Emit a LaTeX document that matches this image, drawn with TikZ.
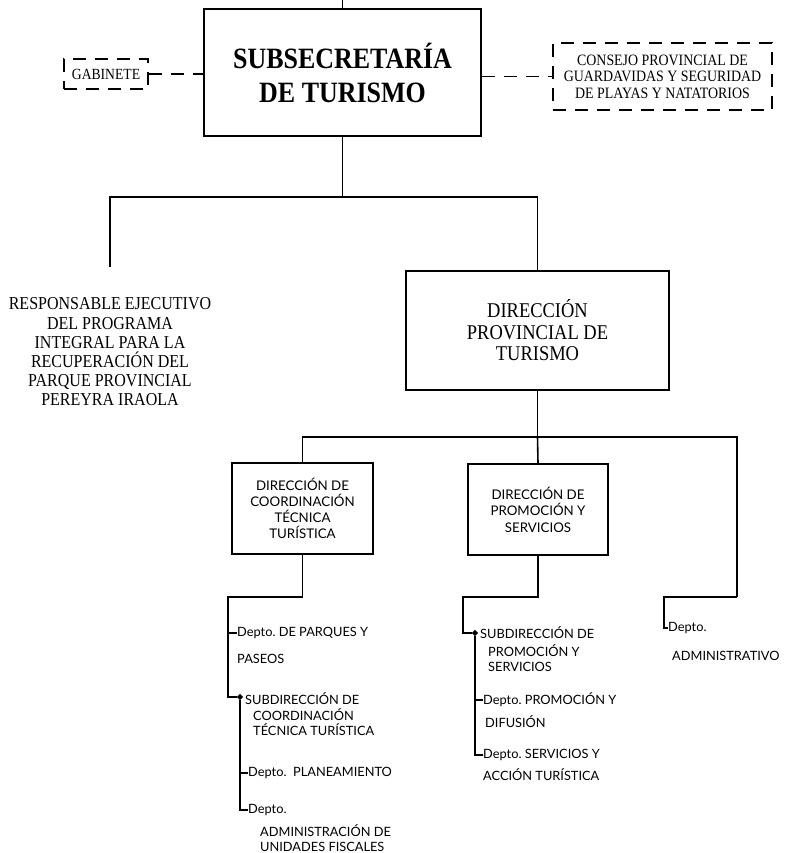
\documentclass[tikz,border=0pt]{standalone}
\usepackage{fontspec}
\setmainfont[FakeStretch=0.88]{Liberation Serif}
\newfontfamily\deptfont{Lato}
\usetikzlibrary{shapes.geometric}

\begin{document}
\begin{tikzpicture}[x=1pt, y=-1pt,
    box/.style={draw, line width=1.6pt, align=center, inner sep=0pt},
    dbox/.style={draw, line width=1.6pt, dash pattern=on 13pt off 9pt, align=center, inner sep=0pt},
    link/.style={line width=1.6pt},
    dlink/.style={line width=1.6pt, dash pattern=on 13pt off 9pt},
    dept/.style={anchor=west, inner sep=0pt, align=left, font=\deptfont\fontsize{12.8}{15}\selectfont},
    knot/.style={diamond, fill, inner sep=0pt, minimum size=6.5pt}]
    \useasboundingbox (0,0) rectangle (786,853);
    \node[box, line width=2pt, minimum width=277pt, minimum height=127pt, font=\bfseries\fontsize{29.5}{34}\selectfont] (sub) at (342.5,72.5) {SUBSECRETARÍA\\DE TURISMO};
    \node[dbox, minimum width=84pt, minimum height=30pt, font=\fontsize{15.5}{16}\selectfont] (gab) at (106,74) {GABINETE};
    \node[dbox, minimum width=219pt, minimum height=67pt, font=\fontsize{15.8}{16.5}\selectfont] (cons) at (662.5,76.5) {CONSEJO PROVINCIAL DE\\GUARDAVIDAS Y SEGURIDAD\\DE PLAYAS Y NATATORIOS};
    \node[align=center, font=\fontsize{18.2}{19.2}\selectfont] (resp) at (110,352) {RESPONSABLE EJECUTIVO\\DEL PROGRAMA\\INTEGRAL PARA LA\\RECUPERACIÓN DEL\\PARQUE PROVINCIAL\\PEREYRA IRAOLA};
    \node[box, minimum width=263pt, minimum height=119pt, font=\fontsize{21}{21.5}\selectfont] (dpt) at (537.5,330.5) {DIRECCIÓN\\PROVINCIAL DE\\TURISMO};
    \node[box, minimum width=141pt, minimum height=91pt, font=\deptfont\fontsize{13.3}{16}\selectfont] (dct) at (302.5,508.5) {DIRECCIÓN DE\\COORDINACIÓN\\TÉCNICA\\TURÍSTICA};
    \node[box, minimum width=140pt, minimum height=91pt, font=\deptfont\fontsize{13.3}{16.5}\selectfont] (dps) at (538,509.5) {DIRECCIÓN DE\\PROMOCIÓN Y\\SERVICIOS};

    \coordinate (top) at (342.5,0);
    \coordinate (j1) at (342.5,197);
    \coordinate (jl) at (110,197);
    \coordinate (jr) at (537.5,197);
    \coordinate (rtop) at (110,267);
    \draw[link] (sub.north) -- (top);
    \draw[dlink] (gab.east) -- (gab.east -| sub.west);
    \draw[dlink] (sub.east |- cons.west) -- (cons.west);
    \draw[link] (sub.south) -- (j1);
    \draw[link] (rtop) -- (jl) -- (jr) -- (dpt.north);

    \coordinate (k1) at (537.5,437);
    \coordinate (kl) at (302.5,437);
    \coordinate (kr) at (737,437);
    \coordinate (kb) at (737,597);
    \draw[link] (dpt.south) -- (k1);
    \draw[link] (dct.north) -- (kl) -- (kr) -- (kb);
    \draw[link] (k1) -- (dps.north);

    \coordinate (lb) at (228,597);
    \node[knot] (sa) at (240,697) {};
    \node[dept] (parq) at (237,633) {Depto.\ DE PARQUES Y};
    \node[dept] (parq2) at (237,659) {PASEOS};
    \node[dept] (sda) at (245,699) {SUBDIRECCIÓN DE};
    \node[dept] (sda2) at (253,722) {COORDINACIÓN\\TÉCNICA TURÍSTICA};
    \node[dept] (plan) at (248,773) {Depto.\ \ PLANEAMIENTO};
    \node[dept] (adf) at (248,810) {Depto.};
    \node[dept] (adf2) at (260,838) {ADMINISTRACIÓN DE\\UNIDADES FISCALES};
    \draw[link] (dct.south) |- (lb) |- (sa);
    \draw[link] (parq.west -| lb) -- (parq.west);
    \draw[link] (sa) |- (adf.west);
    \draw[link] (plan.west -| sa) -- (plan.west);

    \coordinate (mb) at (463,597);
    \node[knot] (sb) at (475,633) {};
    \node[dept] (sdb) at (480,633) {SUBDIRECCIÓN DE};
    \node[dept] (sdb2) at (488,658.5) {PROMOCIÓN Y\\SERVICIOS};
    \node[dept] (prom) at (483,700) {Depto.\ PROMOCIÓN Y};
    \node[dept] (prom2) at (485,722) {DIFUSIÓN};
    \node[dept] (serv) at (483,755) {Depto.\ SERVICIOS Y};
    \node[dept] (serv2) at (483,775) {ACCIÓN TURÍSTICA};
    \draw[link] (dps.south) |- (mb) |- (sb);
    \draw[link] (prom.west -| sb) -- (prom.west);
    \draw[link] (sb) |- (serv.west);

    \coordinate (ka) at (664,597);
    \node[dept] (adm) at (668,628) {Depto.};
    \node[dept] (adm2) at (672,656) {ADMINISTRATIVO};
    \draw[link] (kb) -- (ka) |- (adm.west);
\end{tikzpicture}
\end{document}
